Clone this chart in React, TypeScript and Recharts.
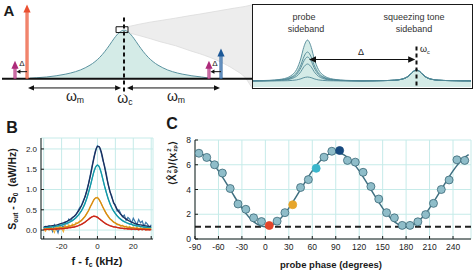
import React from 'react';
import {
  ComposedChart, LineChart, Line, Area, XAxis, YAxis, CartesianGrid,
  ReferenceLine, ReferenceArea, Scatter,
} from 'recharts';

const FONT = '"Liberation Sans", Arial, Helvetica, sans-serif';
const INK = '#1a1a1a';
const GRID = '#c6ebe9';

// ---------- Panel A: cavity spectrum (units: (w - wc) / wm) ----------
const aFreq = [-0.97, -0.9, -0.8, -0.7, -0.6, -0.5, -0.45, -0.4, -0.35, -0.3, -0.25, -0.2, -0.15, -0.1, -0.05, 0, 0.05, 0.1, 0.15, 0.2, 0.25, 0.3, 0.35, 0.4, 0.45, 0.5, 0.6, 0.7, 0.8, 0.87];
const aCavity = [0.01, 0.02, 0.035, 0.06, 0.095, 0.145, 0.18, 0.225, 0.28, 0.35, 0.44, 0.555, 0.69, 0.835, 0.95, 1, 0.95, 0.835, 0.69, 0.555, 0.44, 0.35, 0.28, 0.225, 0.18, 0.145, 0.095, 0.06, 0.035, 0.015];
const coneFreq = [0.041, 0.27, 0.37, 0.53, 0.68, 0.78, 0.99, 1.14, 1.25, 1.33];
const coneLow = [0.948, 0.825, 0.763, 0.68, 0.577, 0.515, 0.35, 0.186, 0.021, -0.227];
const coneHigh = [1.072, 1.165, 1.196, 1.247, 1.299, 1.33, 1.402, 1.454, 1.489, 1.526];
const toneFreq = [-1, -1.124, 1, 0.876];
const toneAmp = [1.53, 0.37, 0.62, 0.37];
const toneColor = ['#ea4f30', '#ad2a7a', '#1c5897', '#ad2a7a'];
const toneInner = ['#f8b9a8', '#e6a9cc', '#a9c6e6', '#e6a9cc'];
const deltaShift = 0.124;

// ---------- Inset: probe / squeezing tone sidebands ----------
const insetX = [-75, -70, -65, -62, -59, -57, -55, -54, -53, -52, -51, -50, -49, -48, -47, -46, -45, -43, -41, -38, -35, -30, -25, -20, -15, -10, -7, -5, -4, -3, -2, -1, 0, 1, 2, 3, 4, 5, 7, 10, 15, 20, 25];
const squeezeTail = [0.62, 0.64, 0.68, 0.77, 0.91, 1.04, 1.22, 1.45, 1.62, 1.70, 1.62, 1.45, 1.22, 1.04, 0.91, 0.77, 0.68, 0.64, 0.62, 0.61];
const probe1 = [0.62, 0.65, 0.70, 0.78, 0.95, 1.22, 1.75, 2.24, 2.90, 3.76, 4.41, 4.70, 4.41, 3.76, 2.90, 2.24, 1.75, 1.22, 0.95, 0.78, 0.70, 0.65, 0.62];
const probe2 = [0.61, 0.63, 0.67, 0.73, 0.85, 1.04, 1.41, 1.76, 2.22, 2.83, 3.30, 3.50, 3.30, 2.83, 2.22, 1.76, 1.41, 1.04, 0.85, 0.73, 0.67, 0.63, 0.61];
const probe3 = [0.61, 0.63, 0.66, 0.71, 0.80, 0.96, 1.27, 1.56, 1.94, 2.45, 2.83, 3.00, 2.83, 2.45, 1.94, 1.56, 1.27, 0.96, 0.80, 0.71, 0.66, 0.63, 0.61];
const probe4 = [0.61, 0.62, 0.64, 0.68, 0.74, 0.86, 1.08, 1.28, 1.55, 1.91, 2.18, 2.30, 2.18, 1.91, 1.55, 1.28, 1.08, 0.86, 0.74, 0.68, 0.64, 0.62, 0.61];
const probe5 = [0.60, 0.60, 0.61, 0.62, 0.63, 0.66, 0.71, 0.76, 0.82, 0.91, 0.97, 1.00, 0.97, 0.91, 0.82, 0.76, 0.71, 0.66, 0.63, 0.62, 0.61, 0.60, 0.60];

// ---------- Panel B: spectra ----------
const bFreq = [-30, -29, -28, -27, -26, -25, -24, -23, -22, -21, -20, -19, -18, -17, -16, -15, -14, -13, -12, -11, -10, -9, -8, -7, -6, -5, -4, -3, -2, -1, 0, 1, 2, 3, 4, 5, 6, 7, 8, 9, 10, 11, 12, 13, 14, 15, 16, 17, 18, 19, 20, 21, 22, 23, 24, 25, 26, 27, 28, 29, 30];
const bNavyData = [0.05, 0.09, 0.04, 0.11, 0.07, -0.04, 0.13, 0.05, -0.07, 0.09, 0.12, 0.06, 0.19, 0.15, 0.27, 0.22, 0.31, 0.33, 0.37, 0.46, 0.55, 0.60, 0.72, 0.82, 0.98, 1.15, 1.36, 1.58, 1.80, 1.98, 2.08, 2.05, 1.92, 1.72, 1.58, 1.38, 1.12, 0.93, 0.84, 0.66, 0.62, 0.47, 0.50, 0.41, 0.33, 0.37, 0.24, 0.31, 0.27, 0.17, 0.29, 0.21, 0.13, 0.26, 0.18, 0.22, 0.09, 0.19, 0.14, 0.06, 0.13];
const bTealData = [0.04, 0.07, 0.05, 0.09, 0.06, 0.10, 0.08, 0.11, 0.09, 0.13, 0.11, 0.15, 0.14, 0.18, 0.17, 0.22, 0.23, 0.27, 0.30, 0.35, 0.41, 0.47, 0.56, 0.65, 0.78, 0.93, 1.09, 1.27, 1.44, 1.56, 1.61, 1.57, 1.43, 1.25, 1.07, 0.92, 0.77, 0.65, 0.55, 0.47, 0.41, 0.35, 0.30, 0.27, 0.23, 0.21, 0.18, 0.17, 0.14, 0.15, 0.11, 0.13, 0.09, 0.12, 0.08, 0.11, 0.06, 0.09, 0.05, 0.08, 0.05];
const bOrangeData = [0.02, -0.03, 0.06, 0.00, 0.08, 0.02, -0.06, 0.09, 0.03, 0.10, 0.04, -0.04, 0.12, 0.05, 0.13, 0.08, 0.15, 0.12, 0.18, 0.17, 0.22, 0.23, 0.29, 0.33, 0.41, 0.47, 0.58, 0.65, 0.75, 0.79, 0.81, 0.75, 0.67, 0.57, 0.49, 0.40, 0.35, 0.27, 0.25, 0.19, 0.18, 0.13, 0.14, 0.09, 0.12, 0.06, 0.10, 0.04, 0.09, 0.03, 0.08, 0.02, 0.07, 0.01, 0.06, 0.02, 0.05, 0.00, 0.05, 0.01, 0.04];
const bRedData = [0.02, 0.00, 0.03, 0.01, 0.03, 0.01, 0.04, 0.02, 0.04, 0.03, 0.05, 0.03, 0.06, 0.04, 0.07, 0.06, 0.08, 0.08, 0.10, 0.10, 0.13, 0.14, 0.17, 0.19, 0.23, 0.26, 0.30, 0.33, 0.35, 0.34, 0.32, 0.28, 0.25, 0.21, 0.18, 0.15, 0.13, 0.11, 0.10, 0.08, 0.08, 0.06, 0.06, 0.04, 0.05, 0.03, 0.04, 0.02, 0.03, 0.01, 0.03, 0.01, 0.02, 0.00, 0.02, 0.00, 0.02, 0.00, 0.01, 0.00, 0.01];
const bFitFreq = [-30, -28, -26, -24, -22, -20, -18, -16, -14, -12, -10, -8, -6, -4, -2, -1, 0, 1, 2, 4, 6, 8, 10, 12, 14, 16, 18, 20, 22, 24, 26, 28, 30];
const bNavyFit = [0.077, 0.088, 0.101, 0.117, 0.137, 0.163, 0.197, 0.242, 0.303, 0.388, 0.510, 0.689, 0.952, 1.325, 1.764, 1.948, 2.055, 2.055, 1.948, 1.545, 1.125, 0.807, 0.590, 0.443, 0.342, 0.270, 0.218, 0.179, 0.149, 0.127, 0.109, 0.094, 0.082];
const bTealFit = [0.058, 0.066, 0.076, 0.088, 0.104, 0.124, 0.151, 0.186, 0.234, 0.303, 0.403, 0.551, 0.773, 1.084, 1.430, 1.554, 1.600, 1.554, 1.430, 1.084, 0.773, 0.551, 0.403, 0.303, 0.234, 0.186, 0.151, 0.124, 0.104, 0.088, 0.076, 0.066, 0.058];
const bOrangeFit = [0.027, 0.031, 0.036, 0.042, 0.049, 0.059, 0.072, 0.089, 0.114, 0.149, 0.201, 0.280, 0.400, 0.569, 0.745, 0.793, 0.793, 0.745, 0.663, 0.479, 0.334, 0.236, 0.172, 0.130, 0.101, 0.080, 0.065, 0.054, 0.045, 0.038, 0.033, 0.029, 0.025];
const bRedFit = [0.015, 0.017, 0.020, 0.023, 0.028, 0.033, 0.041, 0.052, 0.066, 0.087, 0.119, 0.164, 0.228, 0.300, 0.340, 0.334, 0.312, 0.279, 0.243, 0.176, 0.126, 0.093, 0.070, 0.054, 0.043, 0.035, 0.029, 0.024, 0.020, 0.017, 0.015, 0.013, 0.012];
const bXTicks = [-30, -20, -10, 0, 10, 20, 30];
const bXLabels = ['', '-20', '', '0', '', '20', ''];
const bYTicks = [0, 0.5, 1, 1.5, 2];
const bYLabels = ['0.0', '0.5', '1.0', '1.5', '2.0'];

// ---------- Panel C: variance vs probe phase ----------
const cPhase = [-85, -75, -65, -55, -45, -35, -25, -15, -5, 5, 15, 25, 35, 45, 55, 65, 75, 85, 95, 105, 115, 125, 135, 145, 155, 165, 175, 185, 195, 205, 215, 225, 235, 245, 255];
const cVariance = [6.93, 6.59, 6.0, 5.33, 4.08, 2.83, 2.4, 1.71, 1.41, 1.09, 1.44, 2.13, 2.77, 4.16, 4.8, 5.71, 6.61, 7.09, 7.15, 6.35, 6.21, 5.39, 4.24, 3.23, 2.13, 1.71, 1.1, 1.1, 1.39, 1.97, 2.88, 4.0, 4.77, 6.4, 6.35];
const cFitPhase = [-90, -85, -80, -75, -70, -65, -60, -55, -50, -45, -40, -35, -30, -25, -20, -15, -10, -5, 0, 5, 10, 15, 20, 25, 30, 35, 40, 45, 50, 55, 60, 65, 70, 75, 80, 85, 90, 95, 100, 105, 110, 115, 120, 125, 130, 135, 140, 145, 150, 155, 160, 165, 170, 175, 180, 185, 190, 195, 200, 205, 210, 215, 220, 225, 230, 235, 240, 245, 250, 255, 260];
const cFit = [7, 6.954, 6.819, 6.598, 6.298, 5.928, 5.5, 5.026, 4.521, 4, 3.479, 2.974, 2.5, 2.072, 1.702, 1.402, 1.181, 1.046, 1, 1.046, 1.181, 1.402, 1.702, 2.072, 2.5, 2.974, 3.479, 4, 4.521, 5.026, 5.5, 5.928, 6.298, 6.598, 6.819, 6.954, 7, 6.954, 6.819, 6.598, 6.298, 5.928, 5.5, 5.026, 4.521, 4, 3.479, 2.974, 2.5, 2.072, 1.702, 1.402, 1.181, 1.046, 1, 1.046, 1.181, 1.402, 1.702, 2.072, 2.5, 2.974, 3.479, 4, 4.521, 5.026, 5.5, 5.928, 6.298, 6.598, 6.819];
const cXTicks = [-90, -60, -30, 0, 30, 60, 90, 120, 150, 180, 210, 240];
const cYTicks = [0, 2, 4, 6, 8];
const cZeroPoint = 1;
const cHighlightPhase = [5, 35, 65, 95];
const cHighlightColor = ['#e2442a', '#e6a52b', '#3ab6cc', '#17497e'];

// ---------- tables ----------
const aRows = aFreq.map((f, i) => ({ f, v: aCavity[i] }));
const coneRows = coneFreq.map((f, i) => ({ f, range: [coneLow[i], coneHigh[i]] }));
const insetRows = insetX.map((x, i) => {
  const j = i - probe1.length;
  return {
    x,
    p1: j >= 0 ? squeezeTail[j] : probe1[i],
    p2: j >= 0 ? squeezeTail[j] : probe2[i],
    p3: j >= 0 ? squeezeTail[j] : probe3[i],
    p4: j >= 0 ? squeezeTail[j] : probe4[i],
    p5: j >= 0 ? squeezeTail[j] : probe5[i],
  };
});
const toRows = (xs: number[], ys: number[]) => xs.map((x, i) => ({ x, y: ys[i] }));
const cPoints = toRows(cPhase, cVariance);
const cFitRows = toRows(cFitPhase, cFit);

// ---------- helpers ----------
type ArrowOpts = { color: string; width: number; headLen: number; headHalf: number; both?: boolean; inner?: string };
const arrowShape = (o: ArrowOpts) => (p: any) => {
  const x1 = Number(p.x1), y1 = Number(p.y1), x2 = Number(p.x2), y2 = Number(p.y2);
  const dx = x2 - x1, dy = y2 - y1;
  const len = Math.hypot(dx, dy) || 1;
  const ux = dx / len, uy = dy / len, nx = -uy, ny = ux;
  const head = (tx: number, ty: number, dir: number) => {
    const bx = tx - ux * dir * o.headLen, by = ty - uy * dir * o.headLen;
    return `${tx},${ty} ${bx + nx * o.headHalf},${by + ny * o.headHalf} ${bx - nx * o.headHalf},${by - ny * o.headHalf}`;
  };
  const sx = o.both ? x1 + ux * o.headLen * 0.8 : x1;
  const sy = o.both ? y1 + uy * o.headLen * 0.8 : y1;
  const ex = x2 - ux * o.headLen * 0.8, ey = y2 - uy * o.headLen * 0.8;
  return (
    <g>
      <line x1={sx} y1={sy} x2={ex} y2={ey} stroke={o.color} strokeWidth={o.width} />
      {o.inner && <line x1={sx} y1={sy - 0.5} x2={ex} y2={ey} stroke={o.inner} strokeWidth={o.width / 3} />}
      <polygon points={head(x2, y2, 1)} fill={o.color} />
      {o.both && <polygon points={head(x1, y1, -1)} fill={o.color} />}
    </g>
  );
};

const T = ({ x, y, size = 10, bold = false, rotate = 0, color = INK, children }: any) => (
  <div
    style={{
      position: 'absolute', left: x, top: y, fontSize: size, fontWeight: bold ? 700 : 400,
      transform: `translate(-50%, -50%) rotate(${rotate}deg)`, whiteSpace: 'nowrap', lineHeight: 1,
      color, fontFamily: FONT,
    }}
  >
    {children}
  </div>
);
const Sub = ({ children }: any) => <span style={{ fontSize: '0.62em', verticalAlign: '-0.3em' }}>{children}</span>;
const SupSub = ({ sup, sub }: any) => (
  <span style={{ display: 'inline-flex', flexDirection: 'column', fontSize: '0.6em', lineHeight: 0.95, verticalAlign: 'middle', marginLeft: 1 }}>
    <span>{sup}</span>
    <span>{sub}</span>
  </span>
);

const tickStyleB = { fontSize: 8, fill: '#222', fontFamily: FONT };
const tickStyleC = { fontSize: 8.5, fill: '#222', fontFamily: FONT };

const dotShape = (p: any) => {
  const x = p?.payload?.x;
  const k = cHighlightPhase.indexOf(x);
  const fill = k >= 0 ? cHighlightColor[k] : '#8fbdc9';
  return <circle cx={p.cx} cy={p.cy} r={4} fill={fill} stroke={k >= 0 ? fill : '#3a6776'} strokeWidth={0.8} />;
};

export default function App() {
  return (
    <div style={{ position: 'absolute', left: 0, top: 0, width: 475, height: 272, background: '#fff', fontFamily: FONT, overflow: 'hidden' }}>
      {/* Panel A */}
      <div style={{ position: 'absolute', left: 2, top: 1 }}>
        <ComposedChart width={251} height={102} margin={{ top: 0, right: 0, bottom: 0, left: 0 }}>
          <XAxis dataKey="f" type="number" domain={[-1.258, 1.33]} allowDataOverflow hide />
          <YAxis type="number" domain={[-0.5, 1.6]} allowDataOverflow hide />
          <Area data={coneRows} dataKey="range" type="monotone" fill="#ededed" fillOpacity={1} stroke="#dcdcdc" strokeWidth={0.8} isAnimationActive={false} />
          <Area data={aRows} dataKey="v" type="monotone" baseValue={0} fill="#d4ebe7" fillOpacity={1} stroke="#5b93a0" strokeWidth={1} isAnimationActive={false} />
          <ReferenceLine y={0} stroke="#111" strokeWidth={2} />
          <ReferenceLine segment={[{ x: 0, y: 1.26 }, { x: 0, y: -0.33 }]} stroke="#111" strokeWidth={2} strokeDasharray="4 3" />
          <ReferenceArea x1={-0.082} x2={0.041} y1={0.95} y2={1.07} fill="#fff" fillOpacity={0} stroke="#111" strokeWidth={1} />
          {toneFreq.map((f, i) => (
            <ReferenceLine key={`tone${i}`} segment={[{ x: f, y: 0 }, { x: f, y: toneAmp[i] }]}
              shape={arrowShape({ color: toneColor[i], width: 3, headLen: 8, headHalf: 3.6, inner: toneInner[i] })} />
          ))}
          <ReferenceLine segment={[{ x: toneFreq[0], y: 0.145 }, { x: toneFreq[0] - deltaShift + 0.015, y: 0.145 }]}
            shape={arrowShape({ color: '#111', width: 1, headLen: 4, headHalf: 2.2 })} />
          <ReferenceLine segment={[{ x: toneFreq[2], y: 0.145 }, { x: toneFreq[2] - deltaShift + 0.015, y: 0.145 }]}
            shape={arrowShape({ color: '#111', width: 1, headLen: 4, headHalf: 2.2 })} />
          <ReferenceLine segment={[{ x: -0.99, y: -0.19 }, { x: -0.03, y: -0.19 }]}
            shape={arrowShape({ color: '#111', width: 1, headLen: 6, headHalf: 2.6, both: true })} />
          <ReferenceLine segment={[{ x: 0.03, y: -0.19 }, { x: 0.99, y: -0.19 }]}
            shape={arrowShape({ color: '#111', width: 1, headLen: 6, headHalf: 2.6, both: true })} />
        </ComposedChart>
      </div>
      <T x={9} y={10} size={15} bold>A</T>
      <T x={22} y={64} size={8}>Δ</T>
      <T x={215} y={64} size={8}>Δ</T>
      <T x={75} y={97} size={14}>ω<Sub>m</Sub></T>
      <T x={125} y={99} size={14}>ω<Sub>c</Sub></T>
      <T x={176} y={97} size={14}>ω<Sub>m</Sub></T>

      {/* Inset */}
      <div style={{ position: 'absolute', left: 252, top: 4, width: 221, height: 85, border: '1.5px solid #1a1a1a', boxSizing: 'border-box', background: '#fff' }}>
        <ComposedChart width={218} height={82} margin={{ top: 0, right: 0, bottom: 0, left: 0 }}>
          <XAxis dataKey="x" type="number" domain={[-75, 25]} allowDataOverflow hide />
          <YAxis type="number" domain={[0, 8.2]} allowDataOverflow hide />
          <Area data={insetRows} dataKey="p1" type="monotone" baseValue={0} fill="#d4ebe7" fillOpacity={1} stroke="#4f8795" strokeWidth={0.9} isAnimationActive={false} />
          <Line data={insetRows} dataKey="p2" type="monotone" dot={false} stroke="#4f8795" strokeWidth={0.9} isAnimationActive={false} />
          <Line data={insetRows} dataKey="p3" type="monotone" dot={false} stroke="#4f8795" strokeWidth={0.9} isAnimationActive={false} />
          <Line data={insetRows} dataKey="p4" type="monotone" dot={false} stroke="#4f8795" strokeWidth={0.9} isAnimationActive={false} />
          <Line data={insetRows} dataKey="p5" type="monotone" dot={false} stroke="#4f8795" strokeWidth={0.9} isAnimationActive={false} />
          <ReferenceLine segment={[{ x: 0, y: 4.05 }, { x: 0, y: 0 }]} stroke="#111" strokeWidth={2} strokeDasharray="4 3" />
          <ReferenceLine segment={[{ x: -49.3, y: 2.75 }, { x: -0.6, y: 2.75 }]}
            shape={arrowShape({ color: '#111', width: 1.2, headLen: 7, headHalf: 3.2, both: true })} />
        </ComposedChart>
      </div>
      <T x={304} y={17} size={9} color="#333">probe</T>
      <T x={306} y={29} size={9} color="#333">sideband</T>
      <T x={414} y={17} size={9} color="#333">squeezing tone</T>
      <T x={414} y={29} size={9} color="#333">sideband</T>
      <T x={361} y={52} size={9}>Δ</T>
      <T x={425} y={50} size={9}>ω<Sub>c</Sub></T>

      {/* Panel B */}
      <div style={{ position: 'absolute', left: 0, top: 130 }}>
        <LineChart width={160} height={140} margin={{ top: 8, right: 7, bottom: 0, left: 0 }}>
          <CartesianGrid stroke={GRID} strokeWidth={1} />
          <XAxis dataKey="x" type="number" domain={[-31.5, 31]} ticks={bXTicks} allowDataOverflow interval={0}
            tickFormatter={(v: number) => bXLabels[bXTicks.indexOf(v)] ?? ''} tickSize={-3} tickMargin={7}
            height={31} stroke={INK} tick={tickStyleB} />
          <XAxis xAxisId="top" orientation="top" dataKey="x" type="number" domain={[-31.5, 31]} ticks={bXTicks}
            allowDataOverflow interval={0} tick={false} tickSize={-3} height={0} stroke={INK} />
          <YAxis type="number" domain={[-0.22, 2.27]} ticks={bYTicks} allowDataOverflow interval={0}
            tickFormatter={(v: number) => bYLabels[bYTicks.indexOf(v)] ?? ''} tickSize={-3} tickMargin={7}
            width={41} stroke={INK} tick={tickStyleB} />
          <YAxis yAxisId="right" orientation="right" type="number" domain={[-0.22, 2.27]} ticks={bYTicks}
            allowDataOverflow interval={0} tick={false} tickSize={-3} width={0} stroke={INK} />
          <Line data={toRows(bFreq, bNavyData)} dataKey="y" type="linear" dot={false} stroke="#3a77aa" strokeWidth={1.2} isAnimationActive={false} />
          <Line data={toRows(bFreq, bTealData)} dataKey="y" type="linear" dot={false} stroke="#48c4d2" strokeWidth={1.2} isAnimationActive={false} />
          <Line data={toRows(bFreq, bOrangeData)} dataKey="y" type="linear" dot={false} stroke="#f2b33c" strokeWidth={1.2} isAnimationActive={false} />
          <Line data={toRows(bFreq, bRedData)} dataKey="y" type="linear" dot={false} stroke="#e95a45" strokeWidth={1.2} isAnimationActive={false} />
          <Line data={toRows(bFitFreq, bNavyFit)} dataKey="y" type="monotone" dot={false} stroke="#1b2d5c" strokeWidth={1.3} isAnimationActive={false} />
          <Line data={toRows(bFitFreq, bTealFit)} dataKey="y" type="monotone" dot={false} stroke="#1596a6" strokeWidth={1.3} isAnimationActive={false} />
          <Line data={toRows(bFitFreq, bOrangeFit)} dataKey="y" type="monotone" dot={false} stroke="#d68b12" strokeWidth={1.3} isAnimationActive={false} />
          <Line data={toRows(bFitFreq, bRedFit)} dataKey="y" type="monotone" dot={false} stroke="#c8281a" strokeWidth={1.3} isAnimationActive={false} />
        </LineChart>
      </div>
      <T x={12} y={128} size={16} bold>B</T>
      <T x={13} y={189} size={10.5} bold rotate={-90}>S<Sub>out</Sub> - S<Sub>0</Sub>&nbsp;&nbsp;(aW/Hz)</T>
      <T x={97} y={262} size={11} bold>f - f<Sub>c</Sub> (kHz)</T>

      {/* Panel C */}
      <div style={{ position: 'absolute', left: 160, top: 130 }}>
        <ComposedChart width={315} height={140} margin={{ top: 10, right: 4, bottom: 0, left: 0 }}>
          <CartesianGrid stroke={GRID} strokeWidth={1} />
          <XAxis dataKey="x" type="number" domain={[-90, 263]} ticks={cXTicks} allowDataOverflow interval={0}
            tickSize={-3} tickMargin={8} height={31} stroke={INK} tick={tickStyleC} />
          <XAxis xAxisId="top" orientation="top" dataKey="x" type="number" domain={[-90, 263]} ticks={cXTicks}
            allowDataOverflow interval={0} tick={false} tickSize={-3} height={0} stroke={INK} />
          <YAxis type="number" domain={[0, 8]} ticks={cYTicks} allowDataOverflow interval={0}
            tickSize={-3} tickMargin={7} width={35} stroke={INK} tick={tickStyleC} />
          <YAxis yAxisId="right" orientation="right" type="number" domain={[0, 8]} ticks={cYTicks}
            allowDataOverflow interval={0} tick={false} tickSize={-3} width={0} stroke={INK} />
          <ReferenceLine y={cZeroPoint} stroke="#222" strokeWidth={2} strokeDasharray="6 4" />
          <Line data={cFitRows} dataKey="y" type="monotone" dot={false} stroke="#3f6f80" strokeWidth={1.5} isAnimationActive={false} />
          <Scatter data={cPoints} dataKey="y" shape={dotShape} isAnimationActive={false} />
        </ComposedChart>
      </div>
      <T x={172} y={124} size={16} bold>C</T>
      <T x={173} y={163} size={10} bold rotate={-90}>
        ⟨X̂<SupSub sup="2" sub="φ" />⟩/⟨x<SupSub sup="2" sub="zp" />⟩
      </T>
      <T x={331} y={265} size={9.5} bold>probe phase (degrees)</T>
    </div>
  );
}
